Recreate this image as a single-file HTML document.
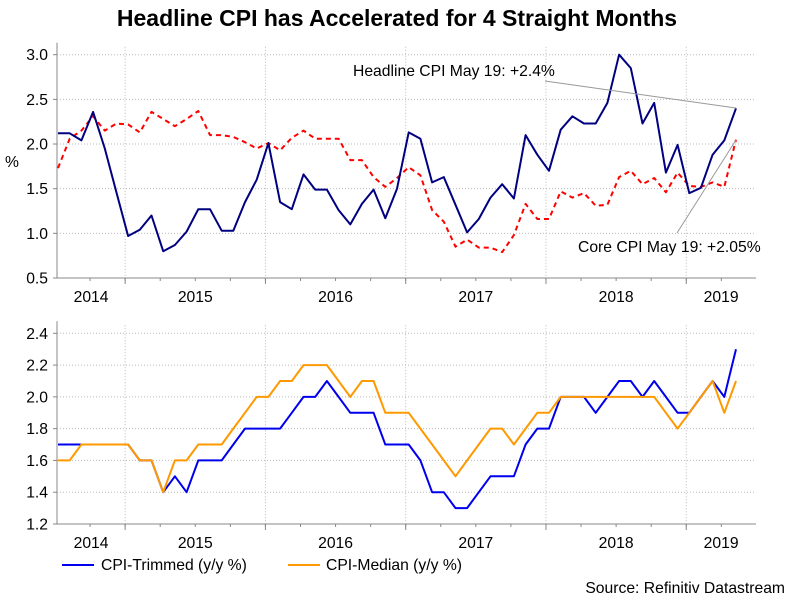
<!DOCTYPE html>
<html><head><meta charset="utf-8"><style>
body{margin:0;background:#fff;}
svg{display:block;font-family:"Liberation Sans",Arial,sans-serif;}
</style></head><body>
<svg id="c" width="795" height="599" viewBox="0 0 795 599">
<text x="397" y="26" text-anchor="middle" font-size="23" font-weight="bold" fill="#000">Headline CPI has Accelerated for 4 Straight Months</text>
<g id="top"></g>
<g id="bot"></g>
<text x="12" y="167" font-size="15.7" text-anchor="middle">%</text>
<text x="353" y="76" font-size="15.7">Headline CPI May 19: +2.4%</text>
<line x1="545" y1="81" x2="736" y2="108" stroke="#999" stroke-width="1"/>
<text x="578" y="252" font-size="15.7">Core CPI May 19: +2.05%</text>
<line x1="677" y1="233" x2="736" y2="140" stroke="#999" stroke-width="1"/>
<g>
<line x1="62" y1="565" x2="94" y2="565" stroke="#0000ee" stroke-width="2"/>
<text x="101" y="570" font-size="15.7">CPI-Trimmed (y/y %)</text>
<line x1="288" y1="565" x2="320" y2="565" stroke="#ff9900" stroke-width="2"/>
<text x="326" y="570" font-size="15.7">CPI-Median (y/y %)</text>
</g>
<text x="785" y="593" font-size="15.7" text-anchor="end">Source: Refinitiv Datastream</text>
</svg>
<script>
const years = ["2014","2015","2016","2017","2018","2019"];
const headline = [2.12,2.12,2.04,2.36,1.95,1.46,0.97,1.04,1.20,0.80,0.87,1.02,1.27,1.27,1.03,1.03,1.35,1.60,2.01,1.35,1.27,1.66,1.49,1.49,1.26,1.10,1.33,1.49,1.17,1.50,2.13,2.06,1.57,1.63,1.32,1.01,1.16,1.40,1.55,1.39,2.10,1.88,1.70,2.16,2.31,2.23,2.23,2.46,3.00,2.85,2.23,2.46,1.68,1.99,1.45,1.51,1.88,2.04,2.40];
const core = [1.73,2.06,2.15,2.31,2.15,2.23,2.22,2.13,2.36,2.28,2.20,2.28,2.37,2.10,2.10,2.08,2.02,1.95,2.01,1.93,2.07,2.15,2.06,2.06,2.06,1.82,1.82,1.63,1.52,1.62,1.74,1.65,1.26,1.13,0.85,0.93,0.84,0.84,0.79,0.98,1.33,1.16,1.16,1.47,1.40,1.45,1.31,1.32,1.63,1.70,1.55,1.62,1.46,1.68,1.53,1.52,1.57,1.52,2.05];
const trimmed = [1.7,1.7,1.7,1.7,1.7,1.7,1.7,1.6,1.6,1.4,1.5,1.4,1.6,1.6,1.6,1.7,1.8,1.8,1.8,1.8,1.9,2.0,2.0,2.1,2.0,1.9,1.9,1.9,1.7,1.7,1.7,1.6,1.4,1.4,1.3,1.3,1.4,1.5,1.5,1.5,1.7,1.8,1.8,2.0,2.0,2.0,1.9,2.0,2.1,2.1,2.0,2.1,2.0,1.9,1.9,2.0,2.1,2.0,2.3];
const median = [1.6,1.6,1.7,1.7,1.7,1.7,1.7,1.6,1.6,1.4,1.6,1.6,1.7,1.7,1.7,1.8,1.9,2.0,2.0,2.1,2.1,2.2,2.2,2.2,2.1,2.0,2.1,2.1,1.9,1.9,1.9,1.8,1.7,1.6,1.5,1.6,1.7,1.8,1.8,1.7,1.8,1.9,1.9,2.0,2.0,2.0,2.0,2.0,2.0,2.0,2.0,2.0,1.9,1.8,1.9,2.0,2.1,1.9,2.1];
const topTicks = [0.5,1.0,1.5,2.0,2.5,3.0];
const botTicks = [1.2,1.4,1.6,1.8,2.0,2.2,2.4];

const NS="http://www.w3.org/2000/svg";
const X0=58, XS=11.69, AXL=57, AXR=756;
function x(i){return X0+i*XS;}
function mk(tag,attrs,parent){const e=document.createElementNS(NS,tag);for(const k in attrs)e.setAttribute(k,attrs[k]);parent.appendChild(e);return e;}

function panel(g,ticks,ymin,ymax,yTop,yBot,fmt,series,name){
  const y=v=>yBot-(v-ymin)/(ymax-ymin)*(yBot-yTop);
  ticks.forEach(t=>{
    const l=mk('line',{x1:AXL,x2:AXR,y1:y(t),y2:y(t),stroke:'#bbb','stroke-dasharray':'1,2'},g);
    
    
    const tx=mk('text',{x:48,y:y(t)+5.5,'font-size':15.7,'text-anchor':'end'},g);
    tx.textContent=fmt(t);
    
    
    mk('line',{x1:AXL-4,x2:AXL,y1:y(t),y2:y(t),stroke:'#888'},g);
  });
  for(let k=0;k<5;k++){
    const gx=x(6+12*k)-3;
    const l=mk('line',{x1:gx,x2:gx,y1:yTop-8,y2:yBot,stroke:'#bbb','stroke-dasharray':'1,2'},g);
    
    
    mk('line',{x1:gx,x2:gx,y1:yBot,y2:yBot+6,stroke:'#888'},g);
  }
  for(let m=0;m<=24;m++){
    const gx=x(6+3*(m-2))-3;
    if(gx>=AXL&&gx<=AXR) mk('line',{x1:gx,x2:gx,y1:yBot,y2:yBot+3,stroke:'#888'},g);
  }
  years.forEach((yr,k)=>{
    let a=x(6+12*(k-1))-3, b=x(6+12*k)-3;
    a=Math.max(a,AXL); b=Math.min(b,AXR);
    const tx=mk('text',{x:(a+b)/2,y:yBot+24,'font-size':15.7,'text-anchor':'middle'},g);
    tx.textContent=yr;
    
    
  });
  const ax=mk('line',{x1:AXL,x2:AXL,y1:yTop-12,y2:yBot,stroke:'#888'},g);
  
  
  const bx=mk('line',{x1:AXL,x2:AXR,y1:yBot,y2:yBot,stroke:'#888'},g);
  
  
  series.forEach(s=>{
    const p=mk('polyline',{points:s.d.map((v,i)=>x(i).toFixed(1)+','+y(v).toFixed(1)).join(' '),fill:'none',stroke:s.c,'stroke-width':2,'stroke-linejoin':'round'},g);
    if(s.dash)p.setAttribute('stroke-dasharray',s.dash);
    
    
  });
}
panel(document.getElementById('top'),topTicks,0.5,3.0,54.7,278,t=>t.toFixed(1),
  [{d:core,c:'#ff0000',dash:'5,4',n:'core-cpi-line'},{d:headline,c:'#000080',n:'headline-cpi-line'}],'top');
panel(document.getElementById('bot'),botTicks,1.2,2.4,333.3,524,t=>t.toFixed(1),
  [{d:trimmed,c:'#0000ee',n:'cpi-trimmed-line'},{d:median,c:'#ff9900',n:'cpi-median-line'}],'bottom');
</script>
</body></html>
